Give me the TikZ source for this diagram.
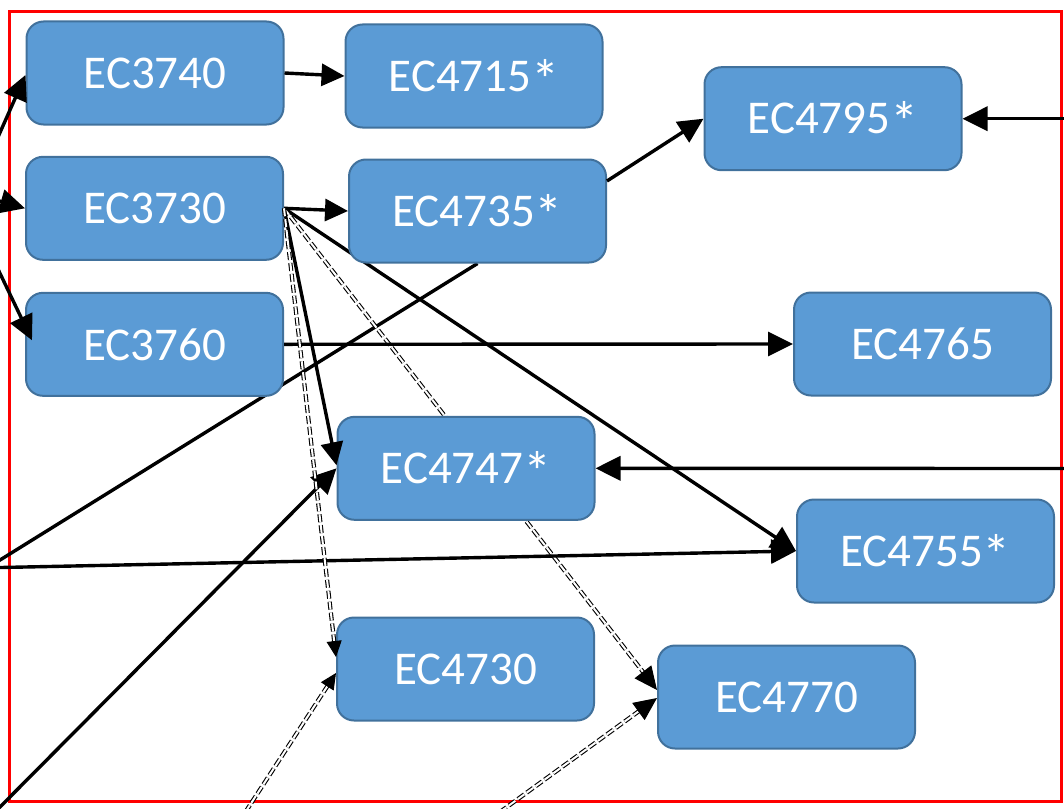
\documentclass[tikz,border=0pt]{standalone}
\usepackage{fontspec}
\usepackage{graphicx}
\setmainfont{Carlito}
\usetikzlibrary{arrows.meta,calc}
\pgfdeclarelayer{background}
\pgfsetlayers{background,main}
\definecolor{boxfill}{HTML}{5B9BD5}
\definecolor{boxline}{HTML}{41719C}
\definecolor{framered}{HTML}{FF0000}
\newcommand\bigast{\raisebox{-8pt}[0pt][0pt]{\scalebox{1.2}{*}}}
\begin{document}
\begin{tikzpicture}[x=1pt,y=-1pt,
  course/.style={draw=boxline, line width=2pt, fill=boxfill, rounded corners=17pt,
    minimum width=257pt, minimum height=103pt, inner sep=0pt, text=white,
    font=\fontsize{47}{56}\selectfont},
  solidarr/.style={line width=3.4pt, -{Triangle[length=25pt,width=24pt]}},
  solidarrS/.style={line width=3.4pt, -{Triangle[length=23pt,width=22pt]}},
  solidline/.style={line width=3.4pt},
  dblline/.style={line width=1.1pt, double=white, double distance=2pt, dash pattern=on 8pt off 3pt},
  dtipS/.style={line width=1pt, -{Triangle[length=16pt,width=15pt]}},
  dtipL/.style={line width=1pt, -{Triangle[length=23pt,width=21pt]}},
  frameline/.style={draw=framered, line width=3.4pt}
]
\useasboundingbox (0,0) rectangle (1064,808);

% nodes
\node[course] (ec3740) at (155,73) {EC3740};
\node[course] (ec4715) at (474,76) {EC4715\bigast};
\node[course] (ec4795) at (833,118.7) {EC4795\bigast};
\node[course] (ec3730) at (154.5,208.3) {EC3730};
\node[course] (ec4735) at (477.5,211) {EC4735\bigast};
\node[course] (ec3760) at (154.5,344.3) {EC3760};
\node[course] (ec4765) at (922.5,344) {EC4765};
\node[course] (ec4747) at (466,468.3) {EC4747\bigast};
\node[course] (ec4755) at (925.5,551) {EC4755\bigast};
\node[course] (ec4730) at (465.5,669) {EC4730};
\node[course] (ec4770) at (786.5,697) {EC4770};

% free ends
\coordinate (inA) at (-4,141.6);
\coordinate (inB) at (-4,200);
\coordinate (inC) at (-4,265);
\coordinate (inD) at (1070,118.7);
\coordinate (inE) at (1070,468.5);
\coordinate (inF) at (-4,567.6);
\coordinate (outG) at (-4,562.5);
\coordinate (inH) at (-6,813);
\coordinate (inI) at (245.4,812);
\coordinate (inJ) at (500,812);

% arrow end points
\coordinate (tA) at ($(ec3740.west)+(0,2)$);
\coordinate (tC) at ($(ec3760.west)+(7,-4)$);
\coordinate (sG) at ($(ec4735.east)+(0,-30)$);
\coordinate (t9) at ($(ec4747.west)+(0,-3)$);
\coordinate (t11) at ($(ec4730.west)+(0,-12)$);
\coordinate (t13) at ($(ec4730.west)+(0,4)$);
\coordinate (t12) at ($(ec4770.west)+(0,-7)$);
\coordinate (t14) at ($(ec4770.west)+(0,1)$);

\begin{pgfonlayer}{background}
  \draw[frameline] (9.2,11.5) rectangle (1061.7,801.7);
  \draw[solidline] (ec4735.south) -- (outG);
  \draw[solidarr] (ec3730.east) -- (ec4755.west);
  \draw[dblline, shorten >=12pt] (ec3730.east) -- (t12);
\end{pgfonlayer}
\draw[dtipL] ($(t12)!12pt!(ec3730.east)$) -- (t12);

% solid connectors
\draw[solidarr] (inA) -- (tA);
\draw[solidarr] (inB) -- (ec3730.west);
\draw[solidarr] (inC) -- (tC);
\draw[solidarrS] (ec3740.east) -- (ec4715.west);
\draw[solidarrS] (ec3730.east) -- (ec4735.west);
\draw[solidarr] (sG) -- (ec4795.west);
\draw[solidarr] (inD) -- (ec4795.east);
\draw[solidarr] (ec3760.east) -- (ec4765.west);
\draw[solidarrS] (ec3730.east) -- (t9);
\draw[solidarr] (inH) -- (ec4747.west);
\draw[solidarr] (inE) -- (ec4747.east);
\draw[solidarr] (inF) -- (ec4755.west);

% double dashed connectors
\draw[dblline, shorten >=9pt] (ec3730.east) -- (t11);
\draw[dtipS] ($(t11)!9pt!(ec3730.east)$) -- (t11);
\draw[dblline, shorten >=9pt] (inI) -- (t13);
\draw[dtipS] ($(t13)!9pt!(inI)$) -- (t13);
\draw[dblline, shorten >=12pt] (inJ) -- (t14);
\draw[dtipL] ($(t14)!12pt!(inJ)$) -- (t14);
\end{tikzpicture}
\end{document}
